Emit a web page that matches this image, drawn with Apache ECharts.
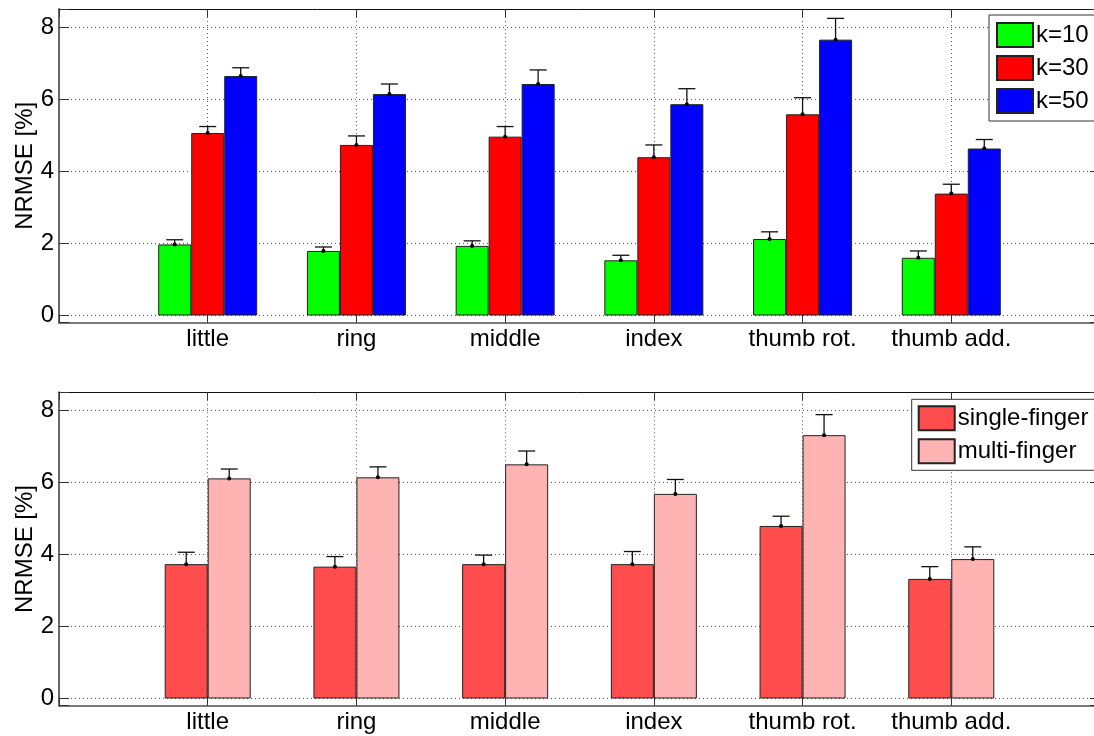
<!DOCTYPE html>
<html>
<head>
<meta charset="utf-8">
<script src="https://cdn.jsdelivr.net/npm/echarts@6/dist/echarts.min.js"></script>
<style>
  html, body { margin: 0; padding: 0; background: #fff; }
  #chart { width: 1094px; height: 736px; }
</style>
</head>
<body>
<div id="chart"></div>
<script>
// Finger categories
const categories = ['little', 'ring', 'middle', 'index', 'thumb rot.', 'thumb add.'];

// Top panel: NRMSE for different k (mean and upper error)
const k10 = [1.97, 1.79, 1.93, 1.53, 2.12, 1.60];
const k10Err = [0.13, 0.11, 0.14, 0.14, 0.20, 0.19];
const k30 = [5.06, 4.73, 4.96, 4.39, 5.58, 3.38];
const k30Err = [0.18, 0.25, 0.28, 0.34, 0.46, 0.26];
const k50 = [6.64, 6.14, 6.42, 5.86, 7.65, 4.63];
const k50Err = [0.23, 0.28, 0.39, 0.43, 0.59, 0.25];

// Bottom panel: single-finger vs multi-finger
const single = [3.73, 3.66, 3.73, 3.73, 4.79, 3.32];
const singleErr = [0.33, 0.28, 0.25, 0.35, 0.27, 0.34];
const multi = [6.11, 6.14, 6.50, 5.68, 7.31, 3.87];
const multiErr = [0.26, 0.29, 0.37, 0.40, 0.57, 0.34];

const yTicks = [0, 2, 4, 6, 8];

// Category axis padded with empty slots at both ends (x from 0 to 7)
const axisCats = ['', ...categories, ''];
const pad = arr => [null, ...arr, null];

const FONT = 'Liberation Sans, Arial, sans-serif';
const FS = 24;
const GRID_DOT = { color: '#555', width: 1, type: [1, 3] };

function errData(vals, errs) {
  return vals.map((v, i) => [i + 1, v, v + errs[i]]);
}

function errRenderer(offset) {
  return function (params, api) {
    const x = api.value(0);
    const top = api.coord([x, api.value(1)]);
    const cap = api.coord([x, api.value(2)]);
    const cx = top[0] + offset;
    const st = { stroke: '#111', lineWidth: 1.3 };
    return {
      type: 'group',
      children: [
        { type: 'line', shape: { x1: cx, y1: top[1], x2: cx, y2: cap[1] }, style: st },
        { type: 'line', shape: { x1: cx - 8.5, y1: cap[1], x2: cx + 8.5, y2: cap[1] }, style: st },
        { type: 'circle', shape: { cx: cx, cy: top[1], r: 2 }, style: { fill: '#000' } }
      ]
    };
  };
}

function xAxes(gridIndex) {
  return [
    {
      type: 'category', gridIndex, data: axisCats, boundaryGap: false, position: 'bottom',
      axisLine: { show: true, onZero: false, lineStyle: { color: '#7a7a7a', width: 2 } },
      axisTick: { show: true, inside: true, length: 8, interval: 0, lineStyle: { color: '#333' } },
      axisLabel: { interval: 0, color: '#000', fontSize: FS, fontFamily: FONT, margin: 5 },
      splitLine: { show: true, interval: 0, lineStyle: GRID_DOT }
    },
    {
      type: 'category', gridIndex, data: axisCats, boundaryGap: false, position: 'top',
      axisLine: { show: true, onZero: false, lineStyle: { color: '#111', width: 1 } },
      axisTick: { show: true, inside: true, length: 8, interval: 0, lineStyle: { color: '#333' } },
      axisLabel: { show: false },
      splitLine: { show: false }
    }
  ];
}

function yAxes(gridIndex) {
  const base = { type: 'value', gridIndex, min: -0.2, max: 8.5, splitNumber: 5 };
  return [
    Object.assign({}, base, {
      position: 'left',
      name: 'NRMSE [%]', nameLocation: 'middle', nameGap: 22, nameMoveOverlap: false,
      nameTextStyle: { color: '#000', fontSize: FS, fontFamily: FONT },
      axisLine: { show: true, onZero: false, lineStyle: { color: '#6a6a6a', width: 2 } },
      axisTick: { show: true, inside: true, length: 10, lineStyle: { color: '#333' } },
      axisLabel: {
        color: '#000', fontSize: FS, fontFamily: FONT, margin: 5,
        formatter: v => {
          const r = Math.round(v);
          return (Math.abs(v - r) < 1e-6 && yTicks.includes(r)) ? String(r) : '';
        }
      },
      splitLine: { show: true, lineStyle: GRID_DOT }
    }),
    Object.assign({}, base, {
      position: 'right',
      axisLine: { show: true, onZero: false, lineStyle: { color: '#111', width: 1 } },
      axisTick: { show: true, inside: true, length: 10, lineStyle: { color: '#333' } },
      axisLabel: { show: false },
      splitLine: { show: false }
    })
  ];
}

function barSeries(name, vals, color, xi, yi, width) {
  return {
    name, type: 'bar', xAxisIndex: xi, yAxisIndex: yi,
    data: pad(vals), barWidth: width, barGap: '0%',
    itemStyle: { color, borderColor: '#222', borderWidth: 1 },
    z: 3
  };
}

function errSeries(vals, errs, offset, xi, yi) {
  return {
    type: 'custom', xAxisIndex: xi, yAxisIndex: yi,
    data: errData(vals, errs), renderItem: errRenderer(offset),
    encode: { x: 0, y: [1, 2] }, z: 5, silent: true
  };
}

const BW1 = 33;   // top panel bar width
const BW2 = 43;   // bottom panel bar width

const option = {
  animation: false,
  backgroundColor: '#fff',
  textStyle: { fontFamily: FONT },
  grid: [
    { left: 59, width: 1041, top: 9, height: 313.7, outerBoundsMode: 'none', containLabel: false },
    { left: 59, width: 1041, top: 392.3, height: 313.4, outerBoundsMode: 'none', containLabel: false }
  ],
  xAxis: [...xAxes(0), ...xAxes(1)],
  yAxis: [...yAxes(0), ...yAxes(1)],
  legend: [
    {
      data: ['k=10', 'k=30', 'k=50'],
      orient: 'vertical', left: 989, top: 15,
      icon: 'rect', itemWidth: 36, itemHeight: 24, itemGap: 7,
      padding: [7, 30, 7, 7],
      backgroundColor: '#fff', borderColor: '#333', borderWidth: 1, borderRadius: 0,
      textStyle: { color: '#000', fontSize: FS, fontFamily: FONT, padding: [0, 0, 0, -2] },
      z: 10
    },
    {
      data: ['single-finger', 'multi-finger'],
      orient: 'vertical', left: 911.7, top: 399.3,
      icon: 'rect', itemWidth: 36, itemHeight: 24, itemGap: 7,
      padding: [6, 30, 6, 6],
      backgroundColor: '#fff', borderColor: '#333', borderWidth: 1, borderRadius: 0,
      textStyle: { color: '#000', fontSize: FS, fontFamily: FONT, padding: [0, 0, 0, -2] },
      z: 10
    }
  ],
  series: [
    barSeries('k=10', k10, '#00ff00', 0, 0, BW1),
    barSeries('k=30', k30, '#ff0000', 0, 0, BW1),
    barSeries('k=50', k50, '#0000ff', 0, 0, BW1),
    errSeries(k10, k10Err, -BW1, 0, 0),
    errSeries(k30, k30Err, 0, 0, 0),
    errSeries(k50, k50Err, BW1, 0, 0),

    barSeries('single-finger', single, '#ff4d4d', 2, 2, BW2),
    barSeries('multi-finger', multi, '#ffb3b3', 2, 2, BW2),
    errSeries(single, singleErr, -BW2 / 2, 2, 2),
    errSeries(multi, multiErr, BW2 / 2, 2, 2)
  ]
};

const chart = echarts.init(document.getElementById('chart'), null, { renderer: 'canvas' });
chart.setOption(option);
</script>
</body>
</html>
